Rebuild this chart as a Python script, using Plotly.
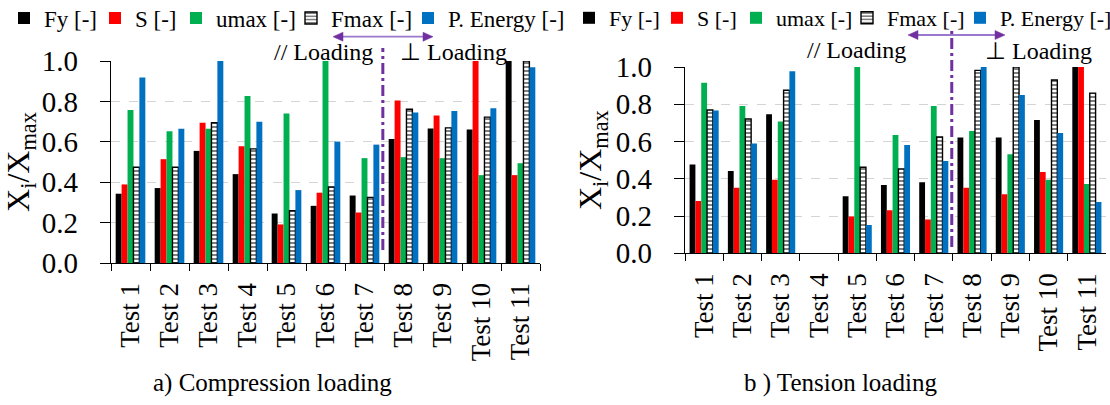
import plotly.graph_objects as go

# ---------------- data ----------------
tests = ["Test 1", "Test 2", "Test 3", "Test 4", "Test 5", "Test 6",
         "Test 7", "Test 8", "Test 9", "Test 10", "Test 11"]

series_names = ["Fy [-]", "S [-]", "umax [-]", "Fmax [-]", "P. Energy [-]"]

# a) Compression loading
comp_fy = [0.343, 0.371, 0.555, 0.440, 0.245, 0.283, 0.334, 0.614, 0.666, 0.661, 1.000]
comp_s = [0.389, 0.514, 0.694, 0.578, 0.191, 0.348, 0.250, 0.804, 0.730, 1.000, 0.435]
comp_umax = [0.758, 0.652, 0.664, 0.827, 0.740, 1.000, 0.519, 0.524, 0.519, 0.435, 0.494]
comp_fmax = [0.474, 0.474, 0.694, 0.565, 0.259, 0.376, 0.325, 0.761, 0.669, 0.722, 1.000]
comp_energy = [0.918, 0.664, 1.000, 0.699, 0.361, 0.601, 0.586, 0.745, 0.753, 0.766, 0.969]

# b) Tension loading (Test 4 has no data)
ten_fy = [0.476, 0.442, 0.746, None, 0.306, 0.367, 0.381, 0.621, 0.621, 0.716, 1.000]
ten_s = [0.281, 0.352, 0.395, None, 0.197, 0.231, 0.181, 0.352, 0.317, 0.437, 1.000]
ten_umax = [0.916, 0.791, 0.707, None, 1.000, 0.635, 0.791, 0.657, 0.531, 0.395, 0.372]
ten_fmax = [0.769, 0.721, 0.875, None, 0.462, 0.453, 0.624, 0.982, 1.000, 0.930, 0.860]
ten_energy = [0.766, 0.590, 0.977, None, 0.152, 0.581, 0.496, 1.000, 0.850, 0.646, 0.275]

y_ticks = [0.0, 0.2, 0.4, 0.6, 0.8, 1.0]
split_position = 6.47  # between Test 7 and Test 8

# ---------------- styling ----------------
FONT = "Liberation Serif, Times New Roman, serif"
colors = ["#000000", "#FF0000", "#00B050", "#FFFFFF", "#0070C0"]
PURPLE = "#7030A0"
PURPLE_LIGHT = "#9A78CC"

W, H = 1110, 405
ML, MR, MT, MB = 111, 4, 61, 142
PW, PH = W - ML - MR, H - MT - MB


def fx(px):
    return (px - ML) / PW


def fy(py):
    return (H - MB - py) / PH


fig = go.Figure()

comp = [comp_fy, comp_s, comp_umax, comp_fmax, comp_energy]
ten = [ten_fy, ten_s, ten_umax, ten_fmax, ten_energy]
legend_w = [46, 36, 70, 72, 112]


def add_series(values, xa, ya, leg, lw_scale):
    for i, (name, vals) in enumerate(zip(series_names, values)):
        marker = dict(color=colors[i], line=dict(width=0))
        if i == 3:
            marker = dict(color="white",
                          line=dict(color="black", width=1.4),
                          pattern=dict(shape="-", fgcolor="black", bgcolor="white",
                                       size=4, solidity=0.5))
        fig.add_trace(go.Bar(
            x=tests, y=vals, name=name, marker=marker,
            xaxis=xa, yaxis=ya, legend=leg,
            legendwidth=int(legend_w[i] * lw_scale),
        ))


add_series(comp, "x", "y", "legend", 1.0)
add_series(ten, "x2", "y2", "legend2", 0.95)

axis_common_x = dict(
    type="category", range=[-0.5, 10.5], tickson="boundaries",
    ticks="outside", ticklen=7, tickcolor="black", tickwidth=1.2,
    showline=True, linecolor="black", linewidth=1.3,
    tickangle=-90, tickfont=dict(family=FONT, size=27, color="black"),
    ticklabelstandoff=8, showgrid=False, automargin=False, zeroline=False,
)
axis_common_y = dict(
    range=[0, 1.0], tickvals=y_ticks, tickformat=".1f",
    ticks="outside", ticklen=10, tickcolor="black", tickwidth=1.2,
    showline=True, linecolor="black", linewidth=1.3,
    tickfont=dict(family=FONT, size=29, color="black"),
    ticklabelstandoff=16,
    showgrid=True, gridcolor="#d4d4d4", griddash="dash", gridwidth=1,
    zeroline=False, automargin=False,
    title=dict(text="X<sub>i</sub>/X<sub>max</sub>",
               font=dict(family=FONT, size=32, color="black"), standoff=4),
)

fig.update_layout(
    width=W, height=H,
    margin=dict(l=ML, r=MR, t=MT, b=MB, autoexpand=False),
    paper_bgcolor="white", plot_bgcolor="white",
    barmode="group", bargap=0.24, bargroupgap=0.0,
    font=dict(family=FONT, color="black"),
    xaxis=dict(domain=[0, fx(540)], anchor="y", **axis_common_x),
    yaxis=dict(domain=[0, 1], anchor="x", **axis_common_y),
    xaxis2=dict(domain=[fx(685), 1], anchor="y2", **axis_common_x),
    yaxis2=dict(domain=[fy(253.3), fy(67)], anchor="x2", **axis_common_y),
    legend=dict(orientation="h", x=fx(4), y=fy(18), xanchor="left", yanchor="middle",
                font=dict(family=FONT, size=23, color="black"),
                bgcolor="rgba(0,0,0,0)", itemwidth=30, traceorder="normal"),
    legend2=dict(orientation="h", x=fx(569), y=fy(18), xanchor="left", yanchor="middle",
                 font=dict(family=FONT, size=22, color="black"),
                 bgcolor="rgba(0,0,0,0)", itemwidth=30, traceorder="normal"),
    showlegend=True,
)

# dash-dot separators between parallel and perpendicular loading
fig.add_shape(type="line", xref="x", yref="paper", x0=split_position, x1=split_position,
              y0=fy(250), y1=fy(48), line=dict(color=PURPLE, width=3, dash="11px,4px,3px,4px"))
fig.add_shape(type="line", xref="x2", yref="paper", x0=split_position, x1=split_position,
              y0=fy(247), y1=fy(30), line=dict(color=PURPLE, width=3, dash="11px,4px,3px,4px"))

# double-headed arrows (line + two heads)
for x_start, x_end, y_px in [(333, 433, 36.7), (908, 1005, 35)]:
    fig.add_shape(type="line", xref="paper", yref="paper",
                  x0=fx(x_start + 6), x1=fx(x_end - 6), y0=fy(y_px), y1=fy(y_px),
                  line=dict(color=PURPLE_LIGHT, width=1.8))
    left_head = (f"M {fx(x_start)},{fy(y_px)} L {fx(x_start + 10)},{fy(y_px - 4.5)} "
                 f"L {fx(x_start + 10)},{fy(y_px + 4.5)} Z")
    right_head = (f"M {fx(x_end)},{fy(y_px)} L {fx(x_end - 10)},{fy(y_px - 4.5)} "
                  f"L {fx(x_end - 10)},{fy(y_px + 4.5)} Z")
    for p in (left_head, right_head):
        fig.add_shape(type="path", xref="paper", yref="paper", path=p,
                      fillcolor=PURPLE, line=dict(color=PURPLE, width=0.5))

# loading labels
for txt, xc, yc in [("// Loading", 323, 52), ("\u22a5 Loading", 453, 52),
                    ("// Loading", 856, 50), ("\u22a5 Loading", 1038, 51)]:
    fig.add_annotation(xref="paper", yref="paper", x=fx(xc), y=fy(yc), text=txt,
                       showarrow=False, xanchor="center", yanchor="middle",
                       font=dict(family=FONT, size=24, color="black"))

# captions
for txt, xc in [("a) Compression loading", 272), ("b ) Tension loading", 840)]:
    fig.add_annotation(xref="paper", yref="paper", x=fx(xc), y=fy(383), text=txt,
                       showarrow=False, xanchor="center", yanchor="middle",
                       font=dict(family=FONT, size=25, color="black"))

fig.write_html("out.html")
